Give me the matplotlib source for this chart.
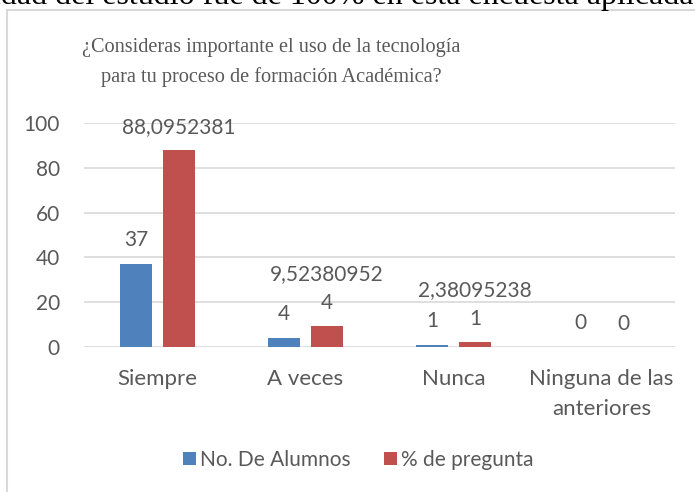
import matplotlib.pyplot as plt
import numpy as np
from matplotlib.patches import Rectangle

CATEGORIES = ['Siempre', 'A veces', 'Nunca', 'Ninguna de las\nanteriores']
ALUMNOS = [37, 4, 1, 0]
PREGUNTA = [88.0952381, 9.52380952, 2.38095238, 0]
ALUMNOS_LABELS = ['37', '4', '1', '0']
PREGUNTA_LABELS = ['88,0952381', '4', '1', '0']
PREGUNTA_EXTRA = ['', '9,52380952', '2,38095238', '']
Y_TICKS = [0, 20, 40, 60, 80, 100]

TITLE = '¿Consideras importante el uso de la tecnología\npara tu proceso de formación Académica?'
TOP_TEXT = 'idad del estudio fue de 100% en esta encuesta aplicada'

BLUE = '#4f81bd'
RED = '#c0504d'
GREY = '#595959'
FONT = 'Lato'
FS = 15


def create_graph():
    W, H = 695, 492
    fig = plt.figure(figsize=(W / 100, H / 100), dpi=100)

    # cropped line of document text above the chart
    fig.text(-8 / W, 1 - 11 / H, TOP_TEXT, family='Liberation Serif', fontsize=23,
             color='black', ha='left', va='bottom')

    # chart frame (only left and top edges visible)
    fig.patches.append(Rectangle((6.5 / W, -0.1), 1.2, 1 - 9.5 / H + 0.1,
                                 transform=fig.transFigure, fill=False,
                                 edgecolor='#d9d9d9', linewidth=1.5))

    ax = fig.add_axes([83.5 / W, 145 / H, 592 / W, 224 / H])
    x = np.arange(len(CATEGORIES))
    w = 0.222
    off = 0.145
    ax.bar(x - off, ALUMNOS, w, color=BLUE, label='No. De Alumnos', zorder=3)
    ax.bar(x + off, PREGUNTA, w, color=RED, label='% de pregunta', zorder=3)

    for xi, v, lab in zip(x, ALUMNOS, ALUMNOS_LABELS):
        ax.annotate(lab, (xi - off, v), xytext=(0, 10), textcoords='offset points',
                    ha='center', va='bottom', family=FONT, fontsize=FS, color=GREY)
    for xi, v, lab, extra in zip(x, PREGUNTA, PREGUNTA_LABELS, PREGUNTA_EXTRA):
        ax.annotate(lab, (xi + off, v), xytext=(0, 9), textcoords='offset points',
                    ha='center', va='bottom', family=FONT, fontsize=FS, color=GREY)
        if extra:
            ax.annotate(extra, (xi + off, v), xytext=(0, 30), textcoords='offset points',
                        ha='center', va='bottom', family=FONT, fontsize=FS, color=GREY)

    ax.set_xlim(-0.5, len(CATEGORIES) - 0.5)
    ax.set_ylim(0, 100)
    ax.set_yticks(Y_TICKS)
    ax.set_xticks(x)
    ax.set_xticklabels(CATEGORIES, family=FONT, fontsize=16, color=GREY, linespacing=1.6)
    ax.set_yticklabels([str(t) for t in Y_TICKS], family=FONT, fontsize=FS, color=GREY)
    ax.tick_params(axis='y', length=0, pad=17)
    ax.tick_params(axis='x', length=0, pad=16)
    ax.grid(axis='y', color='#d9d9d9', linewidth=1.2, zorder=0)
    for s in ax.spines.values():
        s.set_visible(False)

    fig.text(271 / W, 1 - 62.5 / H, TITLE, family='Liberation Serif', fontsize=14.6,
             color=GREY, ha='center', va='center', linespacing=1.62)

    fig.legend(loc='center', bbox_to_anchor=(358 / W, 1 - 460 / H), ncol=2,
               frameon=False, prop={'family': FONT, 'size': FS}, labelcolor=GREY,
               handlelength=0.62, handleheight=0.62, handletextpad=0.2,
               columnspacing=1.6)

    fig.savefig('out.png', dpi=100)


if __name__ == '__main__':
    create_graph()
